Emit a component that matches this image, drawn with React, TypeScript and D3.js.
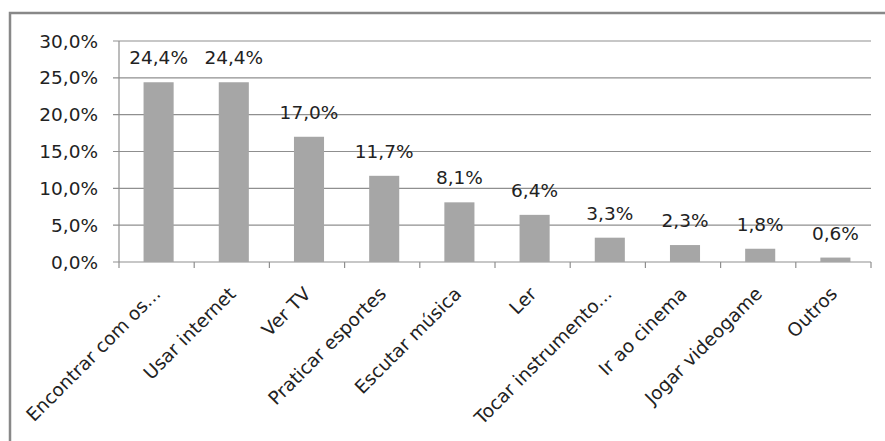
import React from "react";
import * as d3 from "d3";

const categories = [
  "Encontrar com os...",
  "Usar internet",
  "Ver TV",
  "Praticar esportes",
  "Escutar música",
  "Ler",
  "Tocar instrumento...",
  "Ir ao cinema",
  "Jogar videogame",
  "Outros",
];
const values = [24.4, 24.4, 17.0, 11.7, 8.1, 6.4, 3.3, 2.3, 1.8, 0.6];
const yTicks = [0, 5, 10, 15, 20, 25, 30];

const W = 885;
const H = 441;
const FONT = "'DejaVu Sans', sans-serif";
const FS = 18.5;
const fmt = (v: number) => v.toFixed(1).replace(".", ",") + "%";

export default function App() {
  const band = d3.scaleBand<string>().domain(categories).range([119, 871]);
  const x = d3
    .scaleBand<string>()
    .domain(categories)
    .range([121, 873])
    .paddingInner(0.6)
    .paddingOuter(0.3);
  const y = d3.scaleLinear().domain([0, 30]).range([262, 41]);

  return (
    <svg
      width={W}
      height={H}
      style={{ position: "absolute", left: 0, top: 0, background: "#fff" }}
      fontFamily={FONT}
    >
      <rect x={10} y={13} width={900} height={500} fill="#fff" stroke="#888" strokeWidth={2.5} />
      {yTicks.map((t) => (
        <g key={t}>
          <line x1={113} x2={871} y1={y(t)} y2={y(t)} stroke="#8f8f8f" strokeWidth={1.2} />
          <text x={98} y={y(t)} dy="0.36em" textAnchor="end" fontSize={FS} fill="#222">
            {fmt(t)}
          </text>
        </g>
      ))}
      <line x1={119} x2={119} y1={y(30)} y2={y(0)} stroke="#8f8f8f" strokeWidth={1.2} />
      <line x1={119} x2={119} y1={y(0)} y2={y(0) + 6} stroke="#8f8f8f" strokeWidth={1.2} />
      {categories.map((c, i) => (
        <line
          key={"t" + i}
          x1={band(c)! + band.bandwidth()}
          x2={band(c)! + band.bandwidth()}
          y1={y(0)}
          y2={y(0) + 6}
          stroke="#8f8f8f"
          strokeWidth={1.2}
        />
      ))}
      {categories.map((c, i) => (
        <g key={c}>
          <rect
            x={x(c)}
            y={y(values[i])}
            width={x.bandwidth()}
            height={y(0) - y(values[i])}
            fill="#a6a6a6"
          />
          <text
            x={x(c)! + x.bandwidth() / 2}
            y={y(values[i]) - 18}
            textAnchor="middle"
            fontSize={FS}
            fill="#222"
          >
            {fmt(values[i])}
          </text>
          <text
            transform={`translate(${band(c)! + band.bandwidth() / 2 + 5},${y(0) + 33}) rotate(-45)`}
            textAnchor="end"
            fontSize={FS}
            fill="#222"
          >
            {c}
          </text>
        </g>
      ))}
    </svg>
  );
}
